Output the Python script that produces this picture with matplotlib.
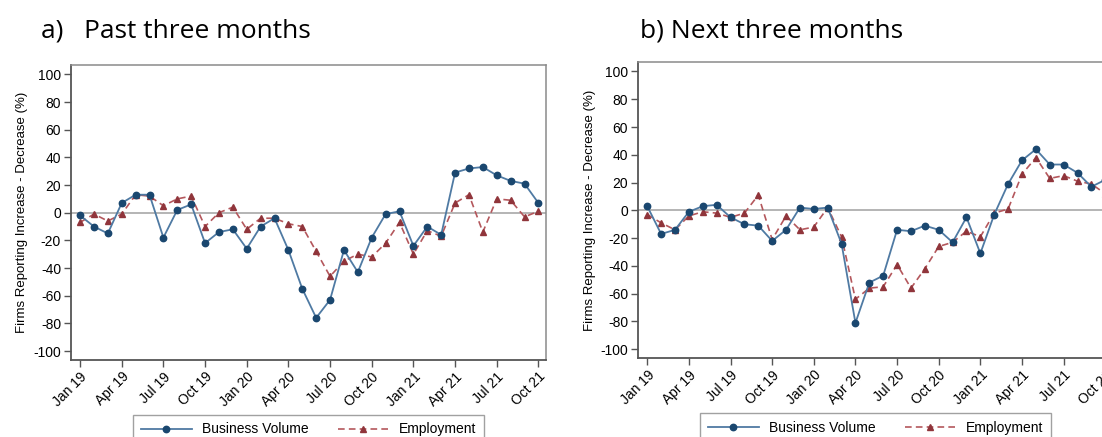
import matplotlib

matplotlib.use("Agg")
import matplotlib.pyplot as plt
import numpy as np

plt.rcParams["font.family"] = ["Liberation Sans", "DejaVu Sans"]
plt.rcParams["axes.unicode_minus"] = False

# month labels, Jan 2019 .. Oct 2021
months = [f"{m} {y}" for y in ("19", "20", "21")
          for m in ("Jan", "Feb", "Mar", "Apr", "May", "Jun",
                    "Jul", "Aug", "Sep", "Oct", "Nov", "Dec")][:34]
tick_labels = months[::3]

# a) past three months
past_volume = [-2, -10, -15, 7, 13, 13, -18, 2, 6, -22, -14, -12,
               -26, -10, -4, -27, -55, -76, -63, -27, -43, -18, -1, 1,
               -24, -10, -16, 29, 32, 33, 27, 23, 21, 7]
past_employment = [-7, -1, -6, -1, 13, 12, 5, 10, 12, -10, 0, 4,
                   -12, -4, -4, -8, -10, -28, -46, -35, -30, -32, -22, -7,
                   -30, -13, -17, 7, 13, -14, 10, 9, -3, 1]

# b) next three months
next_volume = [3, -17, -14, -1, 3, 4, -5, -10, -11, -22, -14, 2,
               1, 2, -24, -81, -52, -47, -14, -15, -11, -14, -23, -5,
               -31, -3, 19, 36, 44, 33, 33, 27, 17, 22]
next_employment = [-3, -9, -14, -4, -1, -2, -5, -2, 11, -21, -4, -14,
                   -12, 2, -19, -64, -56, -55, -39, -56, -42, -26, -23, -15,
                   -19, -2, 1, 26, 38, 23, 25, 21, 19, 12]

BLUE_LINE = "#4f7aa3"
BLUE_MARK = "#1a476f"
RED_LINE = "#b4575c"
RED_MARK = "#90353b"


def draw_panel(ax, volume, employment):
    x = np.arange(len(months))
    ax.axhline(0, color="#a0a0a0", lw=1.1, zorder=1)
    ax.plot(x, volume, color=BLUE_LINE, lw=1.3, marker="o", ms=4.6,
            mfc=BLUE_MARK, mec=BLUE_MARK, label="Business Volume", zorder=3)
    ax.plot(x, employment, color=RED_LINE, lw=1.2, ls=(0, (4, 2.5)),
            marker="^", ms=4.8, mfc=RED_MARK, mec=RED_MARK,
            label="Employment", zorder=2)
    ax.set_xlim(-0.67, 33.55)
    ax.set_ylim(-106.5, 106.8)
    ax.set_yticks(np.arange(-100, 101, 20))
    ax.set_xticks(x[::3])
    ax.set_xticklabels(tick_labels, rotation=45, ha="right", va="top",
                       rotation_mode="anchor")
    ax.tick_params(axis="both", direction="out", length=5, width=1,
                   color="#555555", labelsize=10, pad=2)
    ax.set_ylabel("Firms Reporting Increase - Decrease (%)", fontsize=9.5,
                  labelpad=3.5)
    for side in ("left", "bottom"):
        ax.spines[side].set_color("#555555")
        ax.spines[side].set_linewidth(1.3)
    for side in ("top", "right"):
        ax.spines[side].set_color("#8a8a8a")
        ax.spines[side].set_linewidth(1.1)
    leg = ax.legend(loc="upper center", bbox_to_anchor=(0.5, -0.162), ncol=2,
                    fontsize=10, frameon=True, fancybox=False,
                    handlelength=3.7, handletextpad=0.7, columnspacing=2.1,
                    borderpad=0.55)
    leg.get_frame().set_edgecolor("#8a8a8a")
    leg.get_frame().set_linewidth(1.0)


fig = plt.figure(figsize=(11.02, 4.37), dpi=100)
ax_a = fig.add_axes([0.0642, 0.1762, 0.4313, 0.6751])
ax_b = fig.add_axes([0.5789, 0.1801, 0.4310, 0.6780])

draw_panel(ax_a, past_volume, past_employment)
draw_panel(ax_b, next_volume, next_employment)

title_font = ["Open Sans", "DejaVu Sans"]
fig.text(41 / 1102, 1 - 37 / 437, "a)   Past three months", fontsize=19,
         family=title_font, va="baseline")
fig.text(640 / 1102, 1 - 37 / 437, "b) Next three months", fontsize=19,
         family=title_font, va="baseline")

fig.savefig("out.png", dpi=100)
